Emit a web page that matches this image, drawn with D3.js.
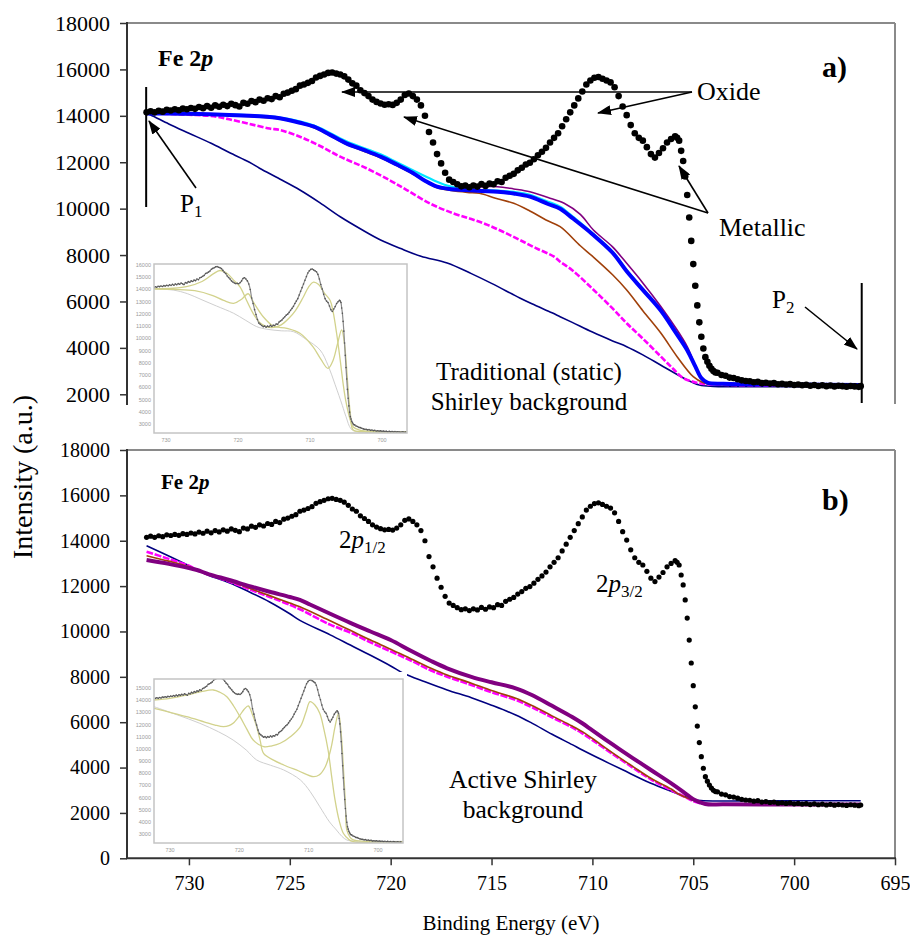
<!DOCTYPE html>
<html>
<head>
<meta charset="utf-8">
<script src="https://cdn.jsdelivr.net/npm/d3@7"></script>
<style>
  body { margin: 0; background: #fff; }
  svg text { font-family: "Liberation Serif", Tinos, "DejaVu Serif", "Noto Serif", serif; }
  svg text.tiny { font-family: "Liberation Sans", Arial, sans-serif; }
</style>
</head>
<body>
<div id="graph"></div>
<script>
// ---------- data (binding energy in eV, intensity in counts) ----------

// measured Fe 2p spectrum (black dots), same in both panels and in the insets
const spectrum = [
  [732.1,14150],[731.9,14200],[731.7,14150],[731.5,14220],[731.3,14180],[731.1,14260],[730.9,14230],
  [730.7,14280],[730.5,14240],[730.3,14310],[730.1,14280],[729.9,14340],[729.7,14300],[729.5,14380],
  [729.3,14330],[729.1,14420],[728.9,14350],[728.7,14450],[728.5,14390],[728.3,14480],[728.1,14420],
  [727.9,14520],[727.7,14460],[727.5,14400],[727.3,14560],[727.1,14520],[726.9,14640],[726.7,14590],
  [726.5,14700],[726.3,14650],[726.1,14760],[725.9,14720],[725.7,14850],[725.5,14800],[725.3,14950],
  [725.1,15000],[724.9,15080],[724.7,15150],[724.5,15300],[724.3,15350],[724.1,15420],[723.9,15500],
  [723.7,15650],[723.5,15720],[723.3,15780],[723.1,15850],[722.9,15870],[722.7,15820],[722.5,15780],
  [722.3,15700],[722.1,15560],[721.9,15400],[721.7,15300],[721.5,15100],[721.3,14980],[721.1,14850],
  [720.9,14700],[720.7,14600],[720.5,14530],[720.3,14480],[720.1,14500],[719.9,14470],[719.7,14560],
  [719.5,14700],[719.3,14900],[719.1,14960],[718.9,14850],[718.7,14700],[718.5,14450],[718.3,14000],
  [718.1,13300],[717.9,12850],[717.7,12350],[717.5,11950],[717.3,11550],[717.1,11250],[716.9,11150],
  [716.7,11050],[716.5,10960],[716.3,11000],[716.1,10920],[715.9,11000],[715.7,10950],[715.5,11060],
  [715.3,10980],[715.1,11080],[714.9,11050],[714.7,11180],[714.5,11150],[714.3,11330],[714.1,11420],
  [713.9,11500],[713.7,11650],[713.5,11760],[713.3,11900],[713.1,11980],[712.9,12130],[712.7,12300],
  [712.5,12450],[712.3,12620],[712.1,12850],[711.9,13050],[711.7,13250],[711.5,13550],[711.3,13850],
  [711.1,14150],[710.9,14450],[710.7,14750],[710.5,15050],[710.3,15350],[710.1,15520],[709.9,15640],
  [709.7,15670],[709.5,15600],[709.3,15520],[709.1,15440],[708.9,15230],[708.7,14850],[708.5,14400],
  [708.3,14030],[708.1,13600],[707.9,13250],[707.7,13050],[707.5,12930],[707.3,12650],[707.1,12350],
  [706.9,12200],[706.7,12400],[706.5,12600],[706.3,12850],[706.1,13000],[705.9,13120],[705.8,13050],
  [705.7,12930],[705.6,12490],[705.5,12050],[705.4,11390],[705.3,10590],[705.2,9620],[705.1,8610],
  [705.0,7610],[704.9,6680],[704.8,5830],[704.7,5100],[704.6,4480],[704.5,3970],[704.4,3600],
  [704.3,3400],[704.2,3230],[704.1,3100],[704.0,3000],[703.9,2940],[703.8,2930],[703.6,2830],
  [703.4,2800],[703.2,2720],[703.0,2700],[702.8,2650],[702.6,2600],[702.4,2570],[702.2,2560],
  [702.0,2520],[701.8,2540],[701.6,2480],[701.4,2500],[701.2,2460],[701.0,2480],[700.8,2430],
  [700.6,2450],[700.4,2420],[700.2,2440],[700.0,2400],[699.8,2420],[699.6,2390],[699.4,2410],
  [699.2,2370],[699.0,2400],[698.8,2360],[698.6,2390],[698.4,2350],[698.2,2380],[698.0,2340],
  [697.8,2370],[697.6,2350],[697.4,2330],[697.2,2360],[697.0,2340],[696.8,2320],[696.7,2350]
];

// a) traditional (static) Shirley backgrounds
const staticNavy = [
  [732.1,14100],[731.9,14036],[731,13650],[730,13250],[728.9,12815],[728,12420],[727,12000],
  [726.5,11739],[725.5,11280],[724.5,10804],[723.5,10250],[722.5,9650],[721.4,9080],[720.5,8650],
  [719.5,8280],[718.5,7950],[717.2,7658],[716,7200],[715,6780],[714,6330],[713.6,6150],[713,5900],
  [712,5510],[711.6,5345],[711,5100],[710,4680],[709,4300],[708.3,4052],[707.5,3700],[706.5,3200],
  [705.3,2617],[704.7,2400],[704,2340],[700,2330],[696.7,2330]
];
const staticMagenta = [
  [732.1,14100],[731,14080],[730,14050],[729,14000],[728.6,13960],[728,13850],[727,13650],
  [726,13450],[725.5,13390],[724.5,13100],[723.5,12700],[722.5,12240],[721.2,11740],[720,11200],
  [719.2,10800],[718,10200],[716.9,9800],[716,9550],[715.2,9300],[714.4,8990],[713.6,8650],
  [712.8,8300],[711.9,7930],[711.6,7714],[711,7350],[710,6550],[709,5700],[708.3,5060],[707.5,4400],
  [706.6,3620],[706,3100],[705.5,2700],[705,2543],[704.5,2450],[703,2400],[700,2380],[696.7,2370]
];
const staticBrown = [
  [732.1,14080],[729,14040],[727,13970],[725.5,13860],[723.8,13490],[722.2,12770],[720.5,12190],
  [718.9,11490],[717.7,10900],[717,10780],[716.2,10700],[715.6,10661],[714.8,10450],[713.9,10229],
  [713.1,9900],[712.3,9512],[711.6,9223],[710.6,8400],[710,7950],[709,7150],[708.3,6495],[707.5,5600],
  [706.6,4629],[705.8,3621],[705,2760],[704.5,2500],[704,2430],[700,2400],[696.7,2390]
];
const staticPurple = [
  [732.1,14100],[729,14070],[727,14000],[725.5,13894],[723.8,13531],[722.2,12815],[720.5,12239],
  [718.9,11537],[717.7,10960],[716.9,10880],[716.2,10900],[715.5,10940],[714.7,10946],[713.9,10850],
  [713.1,10731],[712.2,10480],[711.4,10229],[710.6,9750],[709.95,9080],[709,8350],[708.3,7643],
  [707.5,6800],[706.6,5776],[705.9,4900],[705.3,4052],[704.7,2832],[704.4,2500],[703.5,2440],
  [700,2420],[696.7,2400]
];
const staticCyan = [
  [732.1,14100],[728,14060],[725.5,13920],[723.8,13580],[722.2,12900],[720.5,12340],[719.7,12000],
  [718.9,11650],[717.9,11235],[717.2,11000],[716.4,10850],[715.5,10800],[714.7,10780],[713.9,10720],
  [713.1,10600],[712.2,10300],[711.6,10080],[711,9680],[710,8950],[709,8150],[708.3,7350],[707.5,6540],
  [706.6,5620],[705.9,4720],[705.3,3910],[704.9,3210],[704.6,2710],[704.3,2500],[703.5,2450],
  [700,2420],[696.7,2400]
];
const staticBlue = [
  [732.1,14100],[731,14100],[730,14090],[729,14070],[728,14040],[727,14000],[726,13950],
  [725.5,13894],[724.5,13700],[723.8,13531],[723,13180],[722.2,12815],[721.3,12520],[720.5,12239],
  [719.7,11900],[718.9,11537],[718.3,11200],[717.7,10946],[717,10840],[716.4,10804],[715.5,10760],
  [714.7,10731],[713.9,10650],[713.1,10515],[712.2,10200],[711.6,10000],[711,9600],[710,8900],
  [709,8100],[708.3,7300],[707.5,6500],[706.6,5600],[705.9,4700],[705.3,3900],[704.9,3200],
  [704.6,2700],[704.3,2500],[703.5,2450],[700,2420],[696.7,2400]
];

// b) active Shirley backgrounds
const activeNavy = [
  [732.1,13783],[731,13330],[730,12900],[729.6,12711],[729,12470],[728,12150],[727,11740],
  [726,11300],[725,10780],[724.5,10490],[723,9850],[722,9400],[721,8950],[720,8480],[719.4,8170],
  [718.3,7780],[717.2,7420],[716,7080],[715,6750],[713.8,6318],[713,5960],[712,5470],[711,5010],
  [710.5,4775],[709.5,4330],[708.5,3900],[707.1,3307],[706,2920],[705.4,2716],[705,2580],
  [704.5,2540],[700,2540],[696.7,2540]
];
const activeMagenta = [
  [732.1,13518],[731,13200],[730,12900],[729.6,12711],[729,12500],[728,12200],[727,11860],
  [726,11520],[725,11180],[724.5,10978],[723,10300],[722,9950],[721,9520],[720,9120],[719,8720],
  [718,8280],[717.2,8007],[716,7640],[715,7320],[713.8,6980],[713,6660],[712,6210],[711,5770],
  [710.5,5511],[710,5210],[709,4600],[708,4000],[707.1,3480],[706,2960],[705.4,2700],[705,2520],
  [704.4,2390],[703.5,2370],[700,2360],[696.7,2360]
];
const activeBrown = [
  [732.1,13342],[731,13100],[730,12860],[729.6,12711],[729,12520],[728,12230],[727,11900],
  [726,11580],[725,11250],[724.5,11093],[723,10470],[722,10050],[721,9620],[720,9220],[719,8800],
  [718,8380],[717.2,8082],[716,7720],[715,7400],[713.8,7054],[713,6740],[712,6280],[711,5830],
  [710.5,5582],[710,5280],[709,4650],[708,4050],[707.1,3527],[706,3000],[705.8,2866],[705,2560],
  [704.4,2400],[703.5,2380],[700,2370],[696.7,2370]
];
const activePurple = [
  [732.1,13150],[731,12980],[730,12800],[729.6,12711],[729,12520],[728,12270],[727,12000],
  [726,11750],[725,11520],[724.5,11388],[724,11190],[723,10780],[722,10380],[721,10000],[720,9624],
  [719,9150],[718,8700],[717.2,8377],[716,8000],[715,7760],[713.8,7495],[713,7200],[712,6720],
  [711,6230],[710.5,5952],[710,5640],[709,5020],[708,4420],[707.1,3893],[706,3250],[705.4,2866],
  [705,2600],[704.4,2394],[703.5,2380],[700,2370],[696.7,2370]
];

// inset fits (peak components and background of the fitting software)
const insetAOxide = [
  [732.3,14050],[729,14100],[727,14250],[725,14650],[723.5,15250],[722.5,15550],[721.5,15300],
  [720.5,14700],[719.7,14200],[718.8,13100],[717.9,12050],[717,11300],[716,10950],[715,10900],
  [714,11100],[713,11600],[712,12300],[711,13300],[710.2,14200],[709.5,14600],[708.8,14400],
  [708,13700],[707.2,13100],[706.8,12200],[706.3,10400],[705.8,8200],[705.4,6300],[705,4800],
  [704.4,3300],[704,2750],[703.1,2500],[701,2380],[696.4,2350]
];
const insetAMetal = [
  [732.3,14050],[729,14000],[726,13900],[723.5,13500],[722,13100],[720.6,12870],[719.5,13200],
  [718.6,13650],[717.8,12900],[716.5,11770],[715.1,11010],[713.2,10820],[711.4,10415],[709.6,9320],
  [708.5,8300],[707.5,7550],[706.8,8200],[706.2,9500],[705.6,10690],[705.2,9500],[705,8230],
  [704.7,5800],[704.4,3870],[704,2510],[702.5,2380],[696.4,2350]
];
const insetABackground = [
  [732.3,14050],[729,13950],[727,13650],[725,13150],[723,12650],[720.6,12050],[719,11500],
  [717.4,10960],[716,10750],[714,10620],[712.3,10550],[710.5,9900],[708.6,9050],[707.5,7800],
  [706.5,6200],[705.5,4500],[705,3600],[704.3,2600],[703.5,2380],[696.4,2350]
];
const insetBOxide = [
  [732.3,14014],[730,14150],[727.6,14425],[725.5,14700],[723.75,14836],[722.8,14650],[721.8,14285],
  [720.8,13500],[719.9,12642],[718.9,11600],[718,10727],[716.5,10178],[715.3,10250],[714.1,10456],
  [712.5,11050],[711.2,11820],[710.4,13000],[709.8,13874],[709.1,13600],[708.4,12920],[707.8,11600],
  [707.2,9905],[706.7,7800],[706.2,5797],[705.6,4100],[705,3060],[704.3,2600],[703.55,2370],[696.4,2350]
];
const insetBMetal = [
  [732.3,13332],[730,13000],[727.6,12642],[725,12200],[723.5,11950],[722.3,11820],[721.5,11900],
  [720.9,12100],[720,12700],[719.3,13250],[718.7,13521],[718.1,12800],[717.5,11820],[717,10700],
  [716.5,9634],[715,9050],[713.6,8673],[711.5,8200],[709.3,7710],[708.5,7850],[707.6,8533],
  [706.8,10000],[706.2,11800],[705.7,12920],[705.3,11200],[705,8533],[704.7,5500],[704.5,3332],
  [704,2700],[703.55,2510],[702,2400],[696.4,2350]
];
const insetBBackground = [
  [732.3,13463],[729,12800],[725.7,12100],[723,11400],[720.9,10727],[719,9900],[717.5,9084],
  [715.5,8650],[713.6,8262],[711.2,7441],[709.8,6500],[708.4,5247],[707,4000],[706,3332],
  [705.2,2800],[704.5,2510],[703.5,2420],[696.4,2400]
];

// tick labels
const xTicks = [730, 725, 720, 715, 710, 705, 700, 695];
const yTicksTop = [2000, 4000, 6000, 8000, 10000, 12000, 14000, 16000, 18000];
const yTicksBottom = [0, 2000, 4000, 6000, 8000, 10000, 12000, 14000, 16000, 18000];
const insetTicksX = [730, 720, 710, 700];
const insetATicksY = [16000, 15000, 14000, 13000, 12000, 11000, 10000, 9000, 8000, 7000, 6000, 5000, 4000, 3000];
const insetBTicksY = [15000, 14000, 13000, 12000, 11000, 10000, 9000, 8000, 7000, 6000, 5000, 4000, 3000];

// ---------- drawing ----------
const serif = '"Liberation Serif", Tinos, "DejaVu Serif", "Noto Serif", serif';

const svg = d3.select("#graph").append("svg")
  .attr("width", 910).attr("height", 936)
  .style("background", "#fff");

const defs = svg.append("defs");
defs.append("marker").attr("id", "arrow")
  .attr("viewBox", "0 0 14 10").attr("refX", 13).attr("refY", 5)
  .attr("markerWidth", 14).attr("markerHeight", 10)
  .attr("markerUnits", "userSpaceOnUse").attr("orient", "auto")
  .append("path").attr("d", "M0,0 L14,5 L0,10 z").attr("fill", "#000");

const x = d3.scaleLinear().domain([733.07, 695]).range([127, 895]);
const yTop = d3.scaleLinear().domain([0, 18000]).range([440.7, 23]);
const yBot = d3.scaleLinear().domain([0, 18000]).range([858.3, 450]);

function addClip(id, x0, y0, w, h) {
  defs.append("clipPath").attr("id", id)
    .append("rect").attr("x", x0).attr("y", y0).attr("width", w).attr("height", h);
}
addClip("clipTop", 128, 24, 766, 381);
addClip("clipBot", 128, 451, 766, 407);

function drawLine(g, data, y, color, width, dash) {
  g.append("path")
    .datum(data)
    .attr("fill", "none")
    .attr("stroke", color)
    .attr("stroke-width", width)
    .attr("stroke-linejoin", "round")
    .attr("stroke-dasharray", dash || null)
    .attr("d", d3.line().curve(d3.curveCatmullRom.alpha(0.5)).x(d => x(d[0])).y(d => y(d[1])));
}

function drawDots(g, y, r) {
  g.selectAll("circle.pt")
    .data(spectrum)
    .join("circle")
    .attr("class", "pt")
    .attr("cx", d => x(d[0]))
    .attr("cy", d => y(d[1]))
    .attr("r", r)
    .attr("fill", "#000");
}

function drawYAxis(y, ticks, fontSize) {
  const ax = svg.append("g")
    .attr("transform", "translate(127,0)")
    .call(d3.axisLeft(y).tickValues(ticks).tickSize(7).tickPadding(10).tickFormat(d3.format("d")));
  ax.attr("font-family", null).attr("font-size", null);
  ax.select(".domain").remove();
  ax.selectAll("line").attr("stroke", "#333").attr("stroke-width", 1.5);
  ax.selectAll("text").style("font-family", serif).style("font-size", fontSize + "px").attr("fill", "#000");
}

// small picture of the fitting software
function drawInset(box, sx, sy, ticksY, comps) {
  const g = svg.append("g");
  g.append("rect")
    .attr("x", box.x0 - 20).attr("y", box.y0 - 7)
    .attr("width", box.x1 - box.x0 + 24).attr("height", box.y1 - box.y0 + 20)
    .attr("fill", "#fff");
  const id = "clip" + box.y0;
  addClip(id, box.x0, box.y0, box.x1 - box.x0, box.y1 - box.y0);
  const inner = g.append("g").attr("clip-path", `url(#${id})`);
  const line = d3.line().curve(d3.curveCatmullRom.alpha(0.5)).x(d => sx(d[0])).y(d => sy(d[1]));
  inner.append("path").datum(comps.bg).attr("fill", "none")
    .attr("stroke", "#cfcfcf").attr("stroke-width", 1).attr("d", line);
  [comps.oxide, comps.metal].forEach(c => {
    inner.append("path").datum(c).attr("fill", "none")
      .attr("stroke", "#d2d28c").attr("stroke-width", 1.3).attr("d", line);
  });
  inner.append("path").datum(spectrum).attr("fill", "none")
    .attr("stroke", "#8a8a8a").attr("stroke-width", 1.2).attr("d", line);
  inner.selectAll("circle").data(spectrum).join("circle")
    .attr("cx", d => sx(d[0])).attr("cy", d => sy(d[1])).attr("r", 0.8).attr("fill", "#555");
  g.append("rect")
    .attr("x", box.x0).attr("y", box.y0)
    .attr("width", box.x1 - box.x0).attr("height", box.y1 - box.y0)
    .attr("fill", "none").attr("stroke", "#c4c4c4").attr("stroke-width", 1.5);
  g.selectAll("text.iy").data(ticksY).join("text")
    .attr("class", "iy tiny")
    .attr("x", box.x0 - 3).attr("y", d => sy(d) + 2)
    .attr("text-anchor", "end")
    .style("font-size", "5.5px")
    .attr("fill", "#9a9a9a").text(d => d);
  g.selectAll("text.ix").data(insetTicksX).join("text")
    .attr("class", "ix tiny")
    .attr("x", d => sx(d)).attr("y", box.y1 + 9)
    .attr("text-anchor", "middle")
    .style("font-size", "5.5px")
    .attr("fill", "#9a9a9a").text(d => d);
}

function arrow(x1, y1, x2, y2) {
  svg.append("line")
    .attr("x1", x1).attr("y1", y1).attr("x2", x2).attr("y2", y2)
    .attr("stroke", "#000").attr("stroke-width", 1.6)
    .attr("marker-end", "url(#arrow)");
}

function label(tx, ty, parts, size, anchor) {
  const t = svg.append("text")
    .attr("x", tx).attr("y", ty)
    .style("font-family", serif).style("font-size", size + "px")
    .attr("text-anchor", anchor || "start").attr("fill", "#000");
  parts.forEach(p => {
    const s = t.append("tspan").text(p.t);
    if (p.b) s.attr("font-weight", "bold");
    if (p.i) s.attr("font-style", "italic");
    if (p.sub) s.style("font-size", (size * 0.68) + "px").attr("dy", 5);
  });
  return t;
}

// ===== panel a) =====
svg.append("line").attr("x1", 127).attr("x2", 895).attr("y1", 23).attr("y2", 23)
  .attr("stroke", "#8a8a8a").attr("stroke-width", 2);
svg.append("line").attr("x1", 895).attr("x2", 895).attr("y1", 23).attr("y2", 404)
  .attr("stroke", "#8a8a8a").attr("stroke-width", 2);
svg.append("line").attr("x1", 127).attr("x2", 127).attr("y1", 22).attr("y2", 405)
  .attr("stroke", "#333").attr("stroke-width", 2);
drawYAxis(yTop, yTicksTop, 22);

const gA = svg.append("g").attr("clip-path", "url(#clipTop)");
drawLine(gA, staticNavy, yTop, "#000080", 1.6);
drawLine(gA, staticMagenta, yTop, "#ff00ff", 2.6, "6,2");
drawLine(gA, staticBrown, yTop, "#a0400a", 1.6);
drawLine(gA, staticPurple, yTop, "#800080", 1.6);
drawLine(gA, staticCyan, yTop, "#00e5ff", 2.2);
drawLine(gA, staticBlue, yTop, "#0000ff", 4);
drawDots(gA, yTop, 3.3);

drawInset({ x0: 154, x1: 407, y0: 264, y1: 433 },
  d3.scaleLinear().domain([730, 700]).range([166, 382]),
  d3.scaleLinear().domain([3000, 16000]).range([424, 265]),
  insetATicksY,
  { oxide: insetAOxide, metal: insetAMetal, bg: insetABackground });

// P1 / P2 markers
svg.append("line").attr("x1", x(732.12)).attr("x2", x(732.12)).attr("y1", 87).attr("y2", 207)
  .attr("stroke", "#000").attr("stroke-width", 2);
svg.append("line").attr("x1", x(696.65)).attr("x2", x(696.65)).attr("y1", 283).attr("y2", 403)
  .attr("stroke", "#000").attr("stroke-width", 2);
arrow(196, 188, 149, 121);
arrow(805, 307, 857, 349);
label(180, 212, [{ t: "P" }, { t: "1", sub: true }], 25);
label(772, 308, [{ t: "P" }, { t: "2", sub: true }], 25);

// oxide / metallic arrows
arrow(692, 92, 342, 92);
arrow(692, 92, 598, 113);
arrow(708, 213, 404, 117);
arrow(708, 213, 679, 166);
label(697, 100, [{ t: "Oxide" }], 26);
label(719, 236, [{ t: "Metallic" }], 26);

label(158, 66, [{ t: "Fe 2", b: true }, { t: "p", b: true, i: true }], 24);
label(822, 77, [{ t: "a)", b: true }], 30);
label(529, 380, [{ t: "Traditional (static)" }], 25, "middle");
label(529, 410, [{ t: "Shirley background" }], 25, "middle");

// ===== panel b) =====
svg.append("line").attr("x1", 127).attr("x2", 895).attr("y1", 450).attr("y2", 450)
  .attr("stroke", "#8a8a8a").attr("stroke-width", 2);
svg.append("line").attr("x1", 895).attr("x2", 895).attr("y1", 450).attr("y2", 858)
  .attr("stroke", "#8a8a8a").attr("stroke-width", 2);
svg.append("line").attr("x1", 127).attr("x2", 127).attr("y1", 449).attr("y2", 859)
  .attr("stroke", "#333").attr("stroke-width", 2);
svg.append("line").attr("x1", 126).attr("x2", 896).attr("y1", 858.3).attr("y2", 858.3)
  .attr("stroke", "#333").attr("stroke-width", 2);
drawYAxis(yBot, yTicksBottom, 20);

const xAx = svg.append("g")
  .attr("transform", "translate(0,858.3)")
  .call(d3.axisBottom(x).tickValues(xTicks).tickSize(7).tickPadding(11).tickFormat(d3.format("d")));
xAx.attr("font-family", null).attr("font-size", null);
xAx.select(".domain").remove();
xAx.selectAll("line").attr("stroke", "#333").attr("stroke-width", 1.5);
xAx.selectAll("text").style("font-family", serif).style("font-size", "20px").attr("fill", "#000");

const gB = svg.append("g").attr("clip-path", "url(#clipBot)");
drawLine(gB, activeNavy, yBot, "#000080", 1.6);
drawLine(gB, activeMagenta, yBot, "#ff00ff", 2.6, "7,1.5");
drawLine(gB, activeBrown, yBot, "#a0400a", 1.6);
drawLine(gB, activePurple, yBot, "#800080", 4);
drawDots(gB, yBot, 2.6);

drawInset({ x0: 154, x1: 403, y0: 679, y1: 843 },
  d3.scaleLinear().domain([730, 700]).range([170, 378]),
  d3.scaleLinear().domain([3000, 15000]).range([834, 688]),
  insetBTicksY,
  { oxide: insetBOxide, metal: insetBMetal, bg: insetBBackground });

label(161, 489, [{ t: "Fe 2", b: true }, { t: "p", b: true, i: true }], 21);
label(822, 510, [{ t: "b)", b: true }], 30);
label(339, 548, [{ t: "2" }, { t: "p", i: true }, { t: "1/2", sub: true }], 25);
label(596, 592, [{ t: "2" }, { t: "p", i: true }, { t: "3/2", sub: true }], 25);
label(523, 788, [{ t: "Active Shirley" }], 25.5, "middle");
label(523, 818, [{ t: "background" }], 25.5, "middle");

// axis titles
label(511, 930, [{ t: "Binding Energy (eV)" }], 21, "middle");
svg.append("text")
  .attr("transform", "translate(32,477) rotate(-90)")
  .attr("text-anchor", "middle")
  .style("font-family", serif).style("font-size", "28px").attr("fill", "#000")
  .text("Intensity (a.u.)");
</script>
</body>
</html>
